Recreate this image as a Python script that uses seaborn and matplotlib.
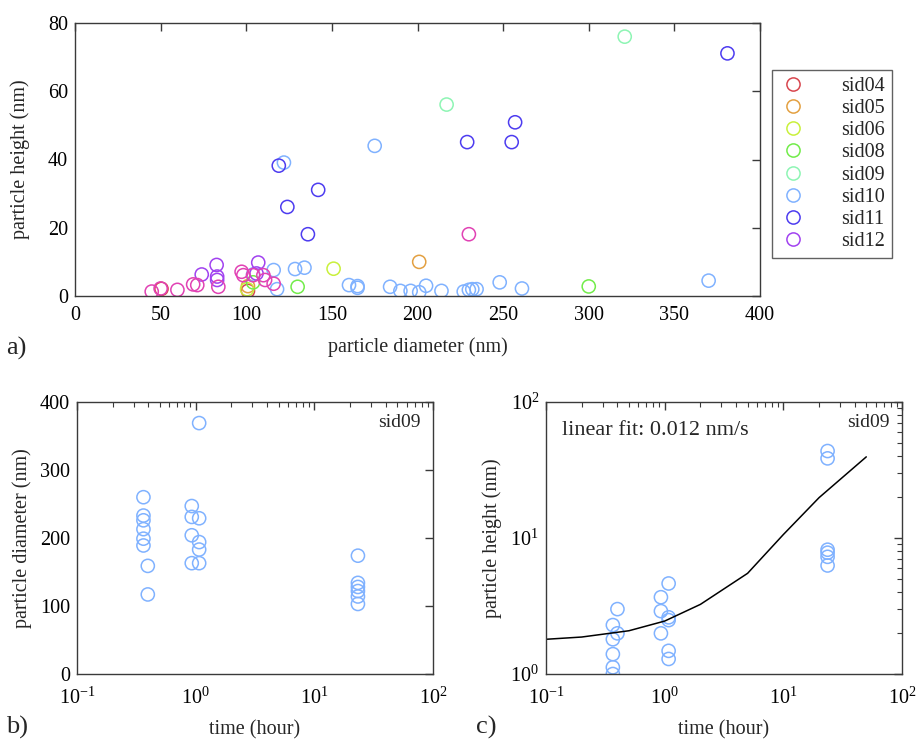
import numpy as np
import pandas as pd
import matplotlib
matplotlib.use("Agg")
import matplotlib.pyplot as plt
from matplotlib.lines import Line2D
from matplotlib.ticker import LogLocator, NullFormatter
import seaborn as sns

sns.set_theme(style="white")
plt.rcParams['font.family'] = ['Liberation Serif', 'DejaVu Serif']
plt.rcParams['mathtext.fontset'] = 'stix'

# ---------------- data: panel a ----------------
series_names = ["sid04", "sid05", "sid06", "sid08", "sid09", "sid10", "sid11", "sid12", "sid13"]
series_colors = ["#d8464e", "#e3a041", "#c9f03c", "#72ec4a", "#8ef5b4", "#80b2ff", "#4d3cf0", "#a142f0", "#e142b4"]
in_legend = [True, True, True, True, True, True, True, True, False]

sid04_d = [50.5, 101]
sid04_h = [2.1, 1.5]
sid05_d = [201, 101]
sid05_h = [10.0, 2.9]
sid06_d = [151, 100.5]
sid06_h = [8.0, 2.0]
sid08_d = [130, 300, 104]
sid08_h = [2.7, 2.8, 4.0]
sid09_d = [217, 321]
sid09_h = [56.1, 76.0]
sid10_d = [122, 175, 370, 116, 128.5, 134, 118, 160, 165, 165, 184, 190, 196, 201,
           205, 214, 227, 230, 232, 234.5, 248, 261, 104]
sid10_h = [39.1, 44.0, 4.5, 7.6, 7.9, 8.3, 2.0, 3.2, 2.9, 2.4, 2.7, 1.5, 1.5, 1.1,
           3.0, 1.5, 1.3, 1.8, 2.0, 2.0, 4.0, 2.2, 6.3]
sid11_d = [119, 124, 142, 136, 229, 255, 257, 381]
sid11_h = [38.2, 26.1, 31.1, 18.1, 45.1, 45.1, 50.9, 71.1]
sid12_d = [74, 82.7, 83, 83, 107, 106]
sid12_h = [6.3, 9.1, 5.7, 4.7, 9.8, 6.6]
sid13_d = [44.8, 50, 59.8, 69, 71.4, 83.7, 97.3, 98.3, 104, 110, 111, 116, 230]
sid13_h = [1.3, 2.2, 1.8, 3.4, 3.2, 2.7, 7.1, 6.1, 6.1, 6.1, 4.7, 3.6, 18.1]

series_d = [sid04_d, sid05_d, sid06_d, sid08_d, sid09_d, sid10_d, sid11_d, sid12_d, sid13_d]
series_h = [sid04_h, sid05_h, sid06_h, sid08_h, sid09_h, sid10_h, sid11_h, sid12_h, sid13_h]

# ---------------- data: panel b ----------------
b_time = [0.363, 0.363, 0.363, 0.363, 0.363, 0.363, 0.395, 0.395,
          0.927, 0.927, 0.927, 0.927, 1.07, 1.07, 1.07, 1.07, 1.07,
          23.3, 23.3, 23.3, 23.3, 23.3, 23.3]
b_diam = [260, 233, 226, 213, 199, 189, 159, 117,
          247, 231, 204, 163, 369, 229, 194, 183, 163,
          174, 134, 128, 122, 114, 103]

# ---------------- data: panel c ----------------
c_time = [0.366, 0.366, 0.366, 0.366, 0.366, 0.40, 0.40,
          0.93, 0.93, 0.93, 1.08, 1.08, 1.08, 1.08, 1.08,
          23.6, 23.6, 23.6, 23.6, 23.6, 23.6]
c_height = [2.29, 1.80, 1.40, 1.12, 1.0, 3.0, 1.99,
            3.67, 2.90, 1.99, 4.63, 2.61, 2.49, 1.48, 1.29,
            43.6, 38.5, 8.2, 7.8, 7.27, 6.28]
fit_time = [0.1, 0.2, 0.5, 1, 2, 5, 10, 20, 50]
fit_height = [1.80, 1.87, 2.08, 2.45, 3.25, 5.5, 10.6, 19.8, 39.5]

W, H = 916, 740
fig = plt.figure(figsize=(W / 100, H / 100), dpi=100)

spine_col = "#3a3a3a"
TFS = 14.5   # tick labels
LFS = 14.5   # axis labels


def style_axes(ax):
    for s in ax.spines.values():
        s.set_color(spine_col)
        s.set_linewidth(1.0)
        s.set_visible(True)
    ax.tick_params(axis="both", which="both", direction="in", top=True, right=True,
                   colors=spine_col, labelcolor="black", labelsize=TFS)
    ax.tick_params(axis="both", which="major", length=6, width=1, pad=5)
    ax.tick_params(axis="both", which="minor", length=3.5, width=0.8)
    ax.grid(False)


def hollow(ax, x, y, color):
    n_before = len(ax.collections)
    sns.scatterplot(x=x, y=y, ax=ax, s=90, color=color, linewidth=1.1, legend=False)
    coll = ax.collections[n_before]
    coll.set_facecolor("none")
    coll.set_edgecolor(color)
    coll.set_linewidth(1.1)


# ---------- panel a ----------
axa = fig.add_axes([75 / W, 1 - 296 / H, 685 / W, 273 / H])
handles = []
for name, col, d, h, show in zip(series_names, series_colors, series_d, series_h, in_legend):
    df = pd.DataFrame({"d": d, "h": h})
    hollow(axa, df["d"], df["h"], col)
    if show:
        handles.append(Line2D([], [], marker="o", ls="", mfc="none", mec=col, ms=9.5,
                              mew=1.1, label=name))
axa.set_xlim(0, 400)
axa.set_ylim(0, 80)
axa.set_xticks(np.arange(0, 401, 50))
axa.set_yticks(np.arange(0, 81, 20))
style_axes(axa)
axa.tick_params(axis="x", which="major", pad=7)
axa.set_xlabel("particle diameter (nm)", fontsize=LFS, labelpad=9)
axa.set_ylabel("particle height (nm)", fontsize=LFS, labelpad=13)
leg = fig.legend(handles=handles, loc="upper left", bbox_to_anchor=(772 / W, 1 - 70 / H),
                 frameon=True, fancybox=False, fontsize=14.5, labelspacing=0.15,
                 handletextpad=1.7, borderpad=0.35, handlelength=1.4, borderaxespad=0)
leg.get_frame().set_edgecolor(spine_col)
leg.get_frame().set_linewidth(1.0)
fig.text(6 / W, 1 - 348 / H, "a)", fontsize=19, va="center", ha="left")

# ---------- panel b ----------
axb = fig.add_axes([77 / W, 1 - 674 / H, 356 / W, 272 / H])
hollow(axb, pd.Series(b_time), pd.Series(b_diam), "#80b2ff")
axb.set_xscale("log")
axb.set_xlim(0.1, 100)
axb.set_ylim(0, 400)
axb.set_yticks(np.arange(0, 401, 100))
axb.xaxis.set_minor_locator(LogLocator(base=10, subs=np.arange(2, 10)))
axb.xaxis.set_minor_formatter(NullFormatter())
style_axes(axb)
axb.tick_params(axis="x", which="major", pad=10)
axb.set_xlabel("time (hour)", fontsize=LFS, labelpad=8)
axb.set_ylabel("particle diameter (nm)", fontsize=LFS, labelpad=6)
axb.text(0.965, 0.925, "sid09", transform=axb.transAxes, ha="right", va="center", fontsize=14)
fig.text(6 / W, 1 - 727 / H, "b)", fontsize=19, va="center", ha="left")

# ---------- panel c ----------
axc = fig.add_axes([546 / W, 1 - 674 / H, 356 / W, 272 / H])
sns.lineplot(x=fit_time, y=fit_height, ax=axc, color="black", linewidth=1.1)
hollow(axc, pd.Series(c_time), pd.Series(c_height), "#80b2ff")
axc.set_xscale("log")
axc.set_yscale("log")
axc.set_xlim(0.1, 100)
axc.set_ylim(1, 100)
axc.xaxis.set_minor_locator(LogLocator(base=10, subs=np.arange(2, 10)))
axc.xaxis.set_minor_formatter(NullFormatter())
axc.yaxis.set_minor_locator(LogLocator(base=10, subs=np.arange(2, 10)))
axc.yaxis.set_minor_formatter(NullFormatter())
style_axes(axc)
axc.tick_params(axis="x", which="major", pad=10)
axc.set_xlabel("time (hour)", fontsize=LFS, labelpad=8)
axc.set_ylabel("particle height (nm)", fontsize=LFS, labelpad=6)
axc.text(0.965, 0.925, "sid09", transform=axc.transAxes, ha="right", va="center", fontsize=14)
axc.text(0.045, 0.895, "linear fit: 0.012 nm/s", transform=axc.transAxes, ha="left",
         va="center", fontsize=16)
fig.text(476 / W, 1 - 727 / H, "c)", fontsize=19, va="center", ha="left")

fig.savefig("out.png", dpi=100)
